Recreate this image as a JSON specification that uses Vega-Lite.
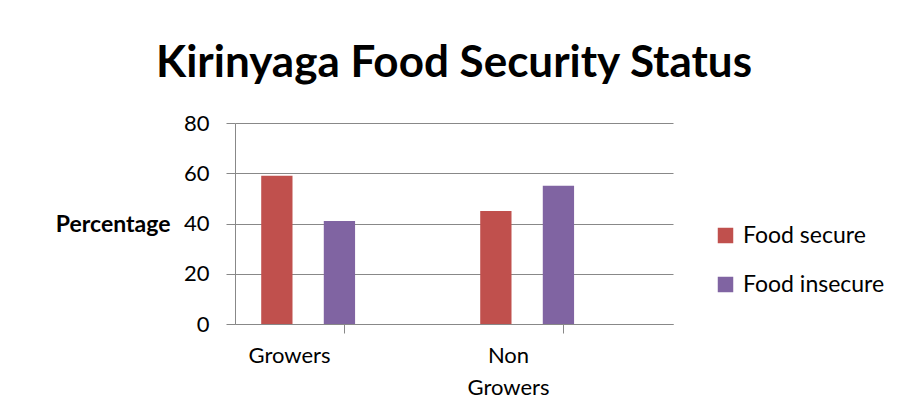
{
  "$schema": "https://vega.github.io/schema/vega-lite/v6.json",
  "autosize": "none",
  "width": 438,
  "height": 201,
  "padding": {"left": 235, "top": 123, "right": 235, "bottom": 92},
  "background": "white",
  "title": {
    "text": "Kirinyaga Food Security Status",
    "fontSize": 44,
    "fontWeight": "bold",
    "color": "black",
    "anchor": "middle",
    "offset": 26
  },
  "data": {
    "values": [
      {"farmer": "Growers", "series": "Food secure", "pct": 59},
      {"farmer": "Growers", "series": "Food insecure", "pct": 41},
      {"farmer": "Non Growers", "series": "Food secure", "pct": 45},
      {"farmer": "Non Growers", "series": "Food insecure", "pct": 55}
    ]
  },
  "mark": {"type": "bar"},
  "encoding": {
    "x": {
      "field": "farmer",
      "type": "nominal",
      "scale": {"paddingInner": 0, "paddingOuter": 0},
      "axis": {
        "title": null,
        "labelAngle": 0,
        "labelExpr": "split(datum.value, ' ')",
        "labelOffset": -55,
        "tickSize": 9,
        "labelPadding": 12,
        "labelLineHeight": 32,
        "labelFontSize": 22,
        "labelColor": "#000000"
      }
    },
    "xOffset": {
      "field": "series",
      "type": "nominal",
      "sort": ["Food secure", "Food insecure"],
      "scale": {"paddingInner": 0.5, "paddingOuter": 1.92, "align": 0.2095}
    },
    "y": {
      "field": "pct",
      "type": "quantitative",
      "scale": {"domain": [0, 80]},
      "axis": {
        "tickCount": 4,
        "title": "Percentage",
        "titleAngle": 0,
        "titleAlign": "right",
        "titleBaseline": "middle",
        "titleX": -65,
        "titleY": 101,
        "titleFontSize": 23,
        "titleFontWeight": "bold",
        "titleColor": "#000000",
        "labelFontSize": 22,
        "labelColor": "#000000",
        "labelPadding": 17,
        "tickSize": 9,
        "grid": true
      }
    },
    "color": {
      "field": "series",
      "type": "nominal",
      "sort": ["Food secure", "Food insecure"],
      "scale": {"range": ["#C0504D", "#8064A2"]},
      "legend": {
        "title": null,
        "orient": "none",
        "legendX": 479,
        "legendY": 101,
        "symbolType": "square",
        "symbolSize": 240,
        "labelFontSize": 23,
        "labelColor": "#000000",
        "labelOffset": 6,
        "rowPadding": 25
      }
    }
  },
  "config": {
    "font": "Lato",
    "view": {"stroke": null},
    "axis": {
      "domainColor": "#888888",
      "tickColor": "#888888",
      "gridColor": "#888888"
    }
  }
}
